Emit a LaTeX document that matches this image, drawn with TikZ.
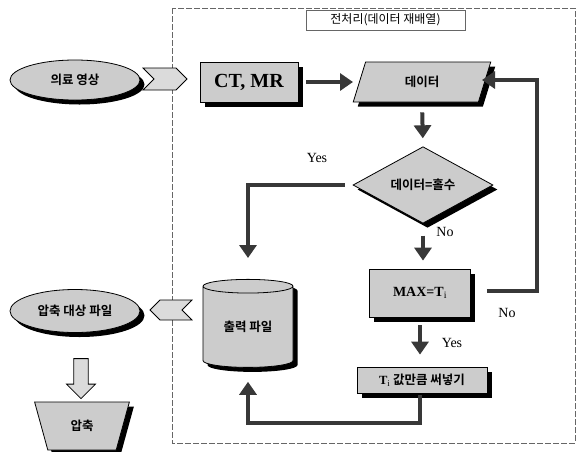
\documentclass[tikz,border=0pt]{standalone}
\usepackage{fontspec}
\setmainfont{Liberation Serif}
\newfontfamily\kr{Noto Sans CJK KR}[BoldFont={Noto Sans CJK KR Bold}]
\usetikzlibrary{shapes.geometric,shapes.symbols,shapes.arrows,shadows,arrows.meta,calc}
\tikzset{
  shade/.style={fill=black!20, draw=black, line width=0.8pt,
    drop shadow={shadow xshift=4.5pt, shadow yshift=-4.5pt, fill=black, opacity=1}},
  krtext/.style={font=\kr\bfseries\fontsize{12.5}{13}\selectfont},
  arr/.style={line width=4pt, draw=black!78, -{Triangle[width=17pt,length=13pt]}},
  lbl/.style={font=\fontsize{14}{15}\selectfont, inner sep=0pt},
  chev/.style={shape=signal, fill=black!14, draw=black, line width=0.8pt, inner sep=0pt}
}
\begin{document}
\begin{tikzpicture}[x=1pt,y=-1pt]
\useasboundingbox (0,0) rectangle (579,451);
% frame
\draw[black!60, dashed, dash pattern=on 6pt off 2pt, line width=0.6pt] (172,8) rectangle (575,443);
\node[draw=black!60, line width=0.6pt, fill=white, inner sep=3pt, minimum width=159pt, minimum height=20pt,
  font=\kr\fontsize{12}{12}\selectfont] (title) at (385.5,20) {전처리(데이터 재배열)};
% nodes
\node[shade, ellipse, minimum width=130pt, minimum height=40pt, inner sep=0pt, krtext] (img) at (75,80) {의료 영상};
\node[chev, signal to=east, signal from=west, minimum width=44pt, minimum height=22pt] (ch1) at (165,79) {};
\node[shade, rectangle, minimum width=98pt, minimum height=40pt, inner sep=0pt,
  font=\bfseries\fontsize{20}{21}\selectfont] (ct) at (249,82) {CT, MR};
\node[shade, trapezium, trapezium left angle=72, trapezium right angle=108, trapezium stretches=true,
  minimum width=138pt, minimum height=40pt, inner sep=0pt, krtext] (data) at (422,82) {데이터};
\node[shade, diamond, minimum width=140pt, minimum height=54pt, inner sep=0pt, krtext] (odd) at (423,185) {데이터=홀수};
\node[shade, rectangle, minimum width=101pt, minimum height=48pt, inner sep=0pt,
  font=\bfseries\fontsize{14}{15}\selectfont] (max) at (420,293) {MAX=T$_{\mathrm{i}}$};
\node[shade, rectangle, minimum width=130pt, minimum height=26pt, inner sep=0pt, krtext] (ti) at (422,380)
  {{\rmfamily T$_{\mathrm{i}}$} 값만큼 써넣기};
\node[shade, cylinder, shape border rotate=90, aspect=0.28, minimum width=90pt, minimum height=88pt,
  inner sep=0pt, krtext] (out) at (248,327) {출력 파일};
\node[chev, signal to=west, signal from=east, minimum width=42pt, minimum height=20pt] (ch2) at (171,310) {};
\node[shade, ellipse, minimum width=130pt, minimum height=43pt, inner sep=0pt, krtext] (cmp) at (75,311) {압축 대상 파일};
\node[shade, trapezium, trapezium left angle=69, trapezium right angle=69, shape border rotate=180,
  trapezium stretches=true, minimum width=95pt, minimum height=48pt, inner sep=0pt, krtext] (zip) at (82,426) {압축};
\node[single arrow, shape border rotate=270, fill=black!14, draw=black, line width=0.8pt,
  minimum height=40pt, minimum width=29pt, single arrow head extend=6pt, single arrow head indent=0pt,
  inner sep=0pt, text width=11pt] (hol) at (81,375) {};
% connectors
\draw[arr, shorten <=8pt, shorten >=6pt] (ct.east) -- (ct.east -| data.west);
\draw[arr, shorten <=10pt, shorten >=8pt] (data.south) -- (odd.north);
\draw[arr, shorten <=12pt, shorten >=8pt] (odd.south) -- (odd.south |- max.north);
\draw[arr, shorten <=8pt, shorten >=12pt] (max.south) -- (max.south |- ti.north);
\coordinate (yk) at (248,185);
\draw[arr, shorten <=8pt] (odd.west) -- (yk) -- (248,258);
\coordinate (nk1) at (537,291);
\coordinate (nk2) at (537,80);
\draw[arr, shorten <=16pt] (max.east |- nk1) -- (nk1) -- (nk2) -- ([xshift=-3pt]data.east |- nk2);
\coordinate (bk1) at (420,423);
\coordinate (bk2) at (248,423);
\draw[arr, shorten >=14pt] (ti.south -| bk1) ++(0,2) -- (bk1) -- (bk2) -- (out.south);
% labels
\node[lbl] (y1) at (317,158) {Yes};
\node[lbl] (n1) at (445,232) {No};
\node[lbl] (n2) at (507,313) {No};
\node[lbl] (y2) at (452,343) {Yes};
\end{tikzpicture}
\end{document}
